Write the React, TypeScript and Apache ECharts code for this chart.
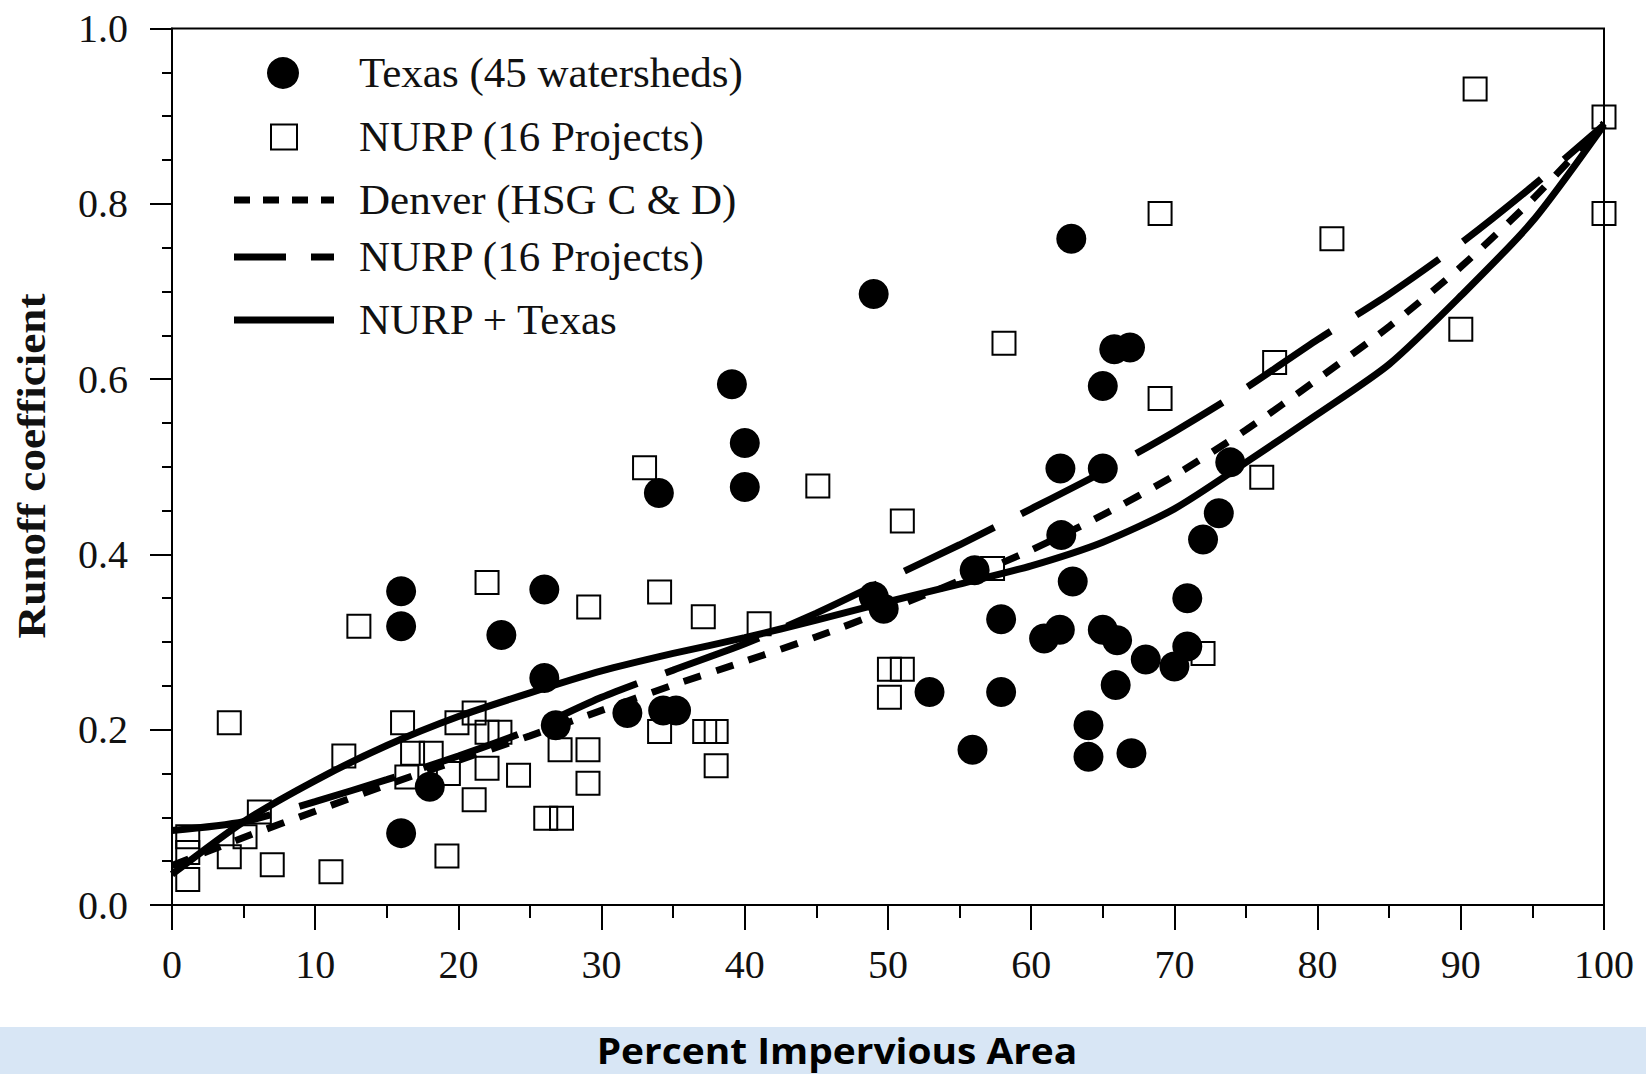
import React, { useEffect, useRef } from "react";
import * as echarts from "echarts";

// ---- data ----
const texasPoints: [number, number][] = [
  [16, 0.358], [16, 0.318], [16, 0.082], [18, 0.135], [23, 0.308], [26, 0.36],
  [26, 0.259], [26.8, 0.205], [31.8, 0.219], [34, 0.47], [34.3, 0.222], [35.2, 0.222],
  [39.1, 0.594], [40, 0.527], [40, 0.477], [49, 0.697], [49, 0.352], [49.7, 0.338],
  [52.9, 0.243], [55.9, 0.177], [56.05, 0.382], [57.9, 0.326], [57.9, 0.243],
  [60.9, 0.304], [62.0, 0.314], [62.04, 0.498], [62.1, 0.422], [62.8, 0.76],
  [62.9, 0.369], [64.0, 0.205], [64.0, 0.169], [65.0, 0.498], [65.0, 0.592],
  [65.0, 0.314], [66.0, 0.302], [65.8, 0.634], [66.9, 0.636], [65.9, 0.251],
  [67.0, 0.173], [68.0, 0.28], [70.0, 0.272], [70.9, 0.295], [70.9, 0.35],
  [72.0, 0.417], [73.1, 0.447], [73.9, 0.505],
];

const nurpPoints: [number, number][] = [
  [1.1, 0.078], [1.1, 0.06], [1.1, 0.029], [4.0, 0.055], [4.0, 0.208], [5.1, 0.078],
  [6.1, 0.106], [7.0, 0.046], [11.1, 0.038], [12.0, 0.17], [13.05, 0.318], [16.1, 0.208],
  [16.4, 0.146], [16.8, 0.173], [18.1, 0.173], [19.2, 0.056], [19.3, 0.15], [19.9, 0.208],
  [21.1, 0.219], [21.1, 0.12], [22.0, 0.197], [22.9, 0.197], [22.0, 0.156], [22.0, 0.368],
  [24.2, 0.148], [26.1, 0.099], [27.2, 0.099], [27.1, 0.177], [29.05, 0.177], [29.05, 0.139],
  [29.1, 0.34], [33.0, 0.499], [34.05, 0.357], [34.05, 0.198], [37.1, 0.329], [37.2, 0.198],
  [38.0, 0.198], [38.0, 0.159], [41.0, 0.321], [45.1, 0.478], [50.1, 0.269], [51.0, 0.269],
  [50.1, 0.237], [51.0, 0.438], [57.3, 0.384], [58.1, 0.641], [69.0, 0.789], [69.0, 0.578],
  [72.0, 0.287], [76.1, 0.488], [77.0, 0.619], [81.0, 0.76], [90.0, 0.657], [91.0, 0.931],
  [100, 0.899], [100, 0.789],
];

const curveX = [0, 5, 10, 15, 20, 25, 30, 35, 40, 45, 50, 55, 60, 65, 70, 75, 80, 85, 90, 95, 100];
const denverY = [0.045, 0.077, 0.107, 0.137, 0.165, 0.193, 0.222, 0.251, 0.278, 0.306, 0.337,
  0.37, 0.405, 0.445, 0.49, 0.542, 0.6, 0.66, 0.728, 0.805, 0.892];
const nurpFitY = [0.085, 0.095, 0.118, 0.143, 0.17, 0.2, 0.237, 0.268, 0.298, 0.333, 0.372,
  0.411, 0.452, 0.494, 0.54, 0.59, 0.645, 0.697, 0.755, 0.82, 0.89];
const nurpTexasY = [0.035, 0.095, 0.142, 0.182, 0.215, 0.242, 0.267, 0.287, 0.305, 0.325, 0.346,
  0.366, 0.387, 0.414, 0.452, 0.505, 0.56, 0.617, 0.695, 0.78, 0.89];

const yTicks = [0, 0.2, 0.4, 0.6, 0.8, 1.0];
const xTicks = [0, 10, 20, 30, 40, 50, 60, 70, 80, 90, 100];

const seriesNames = [
  "Texas (45 watersheds)",
  "NURP (16 Projects)",
  "Denver (HSG C & D)",
  "NURP (16 Projects) ",
  "NURP + Texas",
];

const SERIF = "'Liberation Serif', 'Times New Roman', serif";

export default function App() {
  const ref = useRef<HTMLDivElement>(null);
  useEffect(() => {
    if (!ref.current) return;
    const chart = echarts.init(ref.current, null, { renderer: "svg" });
    const pair = (ys: number[]) => curveX.map((x, i) => [x, ys[i]]);
    const lineBase = { type: "line", showSymbol: false, symbol: "none", z: 2, smooth: 0.25 } as any;

    // hand-built legend (graphic), rows as in the reference
    const legendRowsY = [73, 137, 200, 257, 320];
    const legendTextX = 359;
    const legendLine = (y: number, dash: number[] | null) => ({
      type: "line", z: 20,
      shape: { x1: 234, y1: y, x2: 334, y2: y },
      style: { stroke: "#000", lineWidth: 7, lineDash: dash || undefined, lineCap: "butt" },
    });
    const legendText = (y: number, text: string) => ({
      type: "text", x: legendTextX, y: y - 1, z: 20,
      style: {
        text: text.trim(), align: "left", verticalAlign: "middle",
        fontFamily: SERIF, fontSize: 43, fill: "#111",
      },
    });

    chart.setOption({
      animation: false,
      backgroundColor: "#ffffff",
      grid: {
        left: 172, right: 42, top: 28.5, bottom: 169,
        show: true, borderColor: "#000", borderWidth: 2, backgroundColor: "transparent",
      },
      xAxis: {
        type: "value", min: 0, max: 100, interval: 10,
        axisLine: { lineStyle: { color: "#000", width: 2 } },
        axisTick: { inside: false, length: 25, lineStyle: { color: "#000", width: 2 } },
        minorTick: { show: true, splitNumber: 2, length: 13, lineStyle: { color: "#000", width: 2 } },
        splitLine: { show: false },
        axisLabel: {
          margin: 39, fontFamily: SERIF, fontSize: 40, color: "#111",
          formatter: (v: number) => (xTicks.includes(v) ? String(v) : ""),
        },
      },
      yAxis: {
        type: "value", min: 0, max: 1, interval: 0.2,
        axisLine: { lineStyle: { color: "#000", width: 2 } },
        axisTick: { inside: false, length: 22, lineStyle: { color: "#000", width: 2 } },
        minorTick: { show: true, splitNumber: 4, length: 10, lineStyle: { color: "#000", width: 2 } },
        splitLine: { show: false },
        axisLabel: {
          margin: 44, fontFamily: SERIF, fontSize: 40, color: "#111",
          formatter: (v: number) => {
            const t = yTicks.find((k) => Math.abs(k - v) < 1e-6);
            return t === undefined ? "" : t.toFixed(1);
          },
        },
      },
      graphic: {
        elements: [
          {
            type: "rect", left: 0, top: 1027, z: -10, silent: true,
            shape: { width: 1646, height: 47 },
            style: { fill: "#d8e6f5" },
          },
          {
            type: "text", x: 837, y: 1050, z: 10, scaleX: 1.08,
            style: {
              text: "Percent Impervious Area", align: "center", verticalAlign: "middle",
              fontFamily: "'Open Sans', sans-serif", fontWeight: "bold", fontSize: 36,
              lineHeight: 36, fill: "#000",
            },
          },
          {
            type: "text", x: 31, y: 466, rotation: Math.PI / 2, z: 10, scaleX: 1.13,
            style: {
              text: "Runoff coefficient", align: "center", verticalAlign: "middle",
              fontFamily: SERIF, fontWeight: "bold", fontSize: 40, fill: "#111",
            },
          },
          // legend symbols
          { type: "circle", z: 20, shape: { cx: 283, cy: legendRowsY[0], r: 16 }, style: { fill: "#000" } },
          {
            type: "rect", z: 20, shape: { x: 271, y: legendRowsY[1] - 12.5, width: 26, height: 25 },
            style: { fill: "none", stroke: "#000", lineWidth: 2 },
          },
          legendLine(legendRowsY[2], [16, 13]),
          legendLine(legendRowsY[3], [52, 25, 23, 100]),
          legendLine(legendRowsY[4], null),
          legendText(legendRowsY[0], seriesNames[0]),
          legendText(legendRowsY[1], seriesNames[1]),
          legendText(legendRowsY[2], seriesNames[2]),
          legendText(legendRowsY[3], seriesNames[3]),
          legendText(legendRowsY[4], seriesNames[4]),
        ],
      },
      series: [
        {
          ...lineBase, name: seriesNames[2], data: pair(denverY),
          lineStyle: { color: "#000", width: 7, type: [18, 16], cap: "butt" },
          itemStyle: { color: "#000" },
        },
        {
          ...lineBase, name: seriesNames[3], data: pair(nurpFitY),
          lineStyle: { color: "#000", width: 7, type: [100, 30], cap: "butt" },
          itemStyle: { color: "#000" },
        },
        {
          ...lineBase, name: seriesNames[4], data: pair(nurpTexasY),
          lineStyle: { color: "#000", width: 7, type: "solid" },
          itemStyle: { color: "#000" },
        },
        {
          type: "scatter", name: seriesNames[1], data: nurpPoints, symbol: "rect", symbolSize: 23, z: 3,
          itemStyle: { color: "rgba(255,255,255,0)", borderColor: "#000", borderWidth: 2, opacity: 1 },
        },
        {
          type: "scatter", name: seriesNames[0], data: texasPoints, symbol: "circle", symbolSize: 30, z: 4,
          itemStyle: { color: "#000", opacity: 1 },
        },
      ],
    });
    return () => chart.dispose();
  }, []);
  return <div ref={ref} style={{ position: "absolute", left: 0, top: 0, width: 1646, height: 1074 }} />;
}
